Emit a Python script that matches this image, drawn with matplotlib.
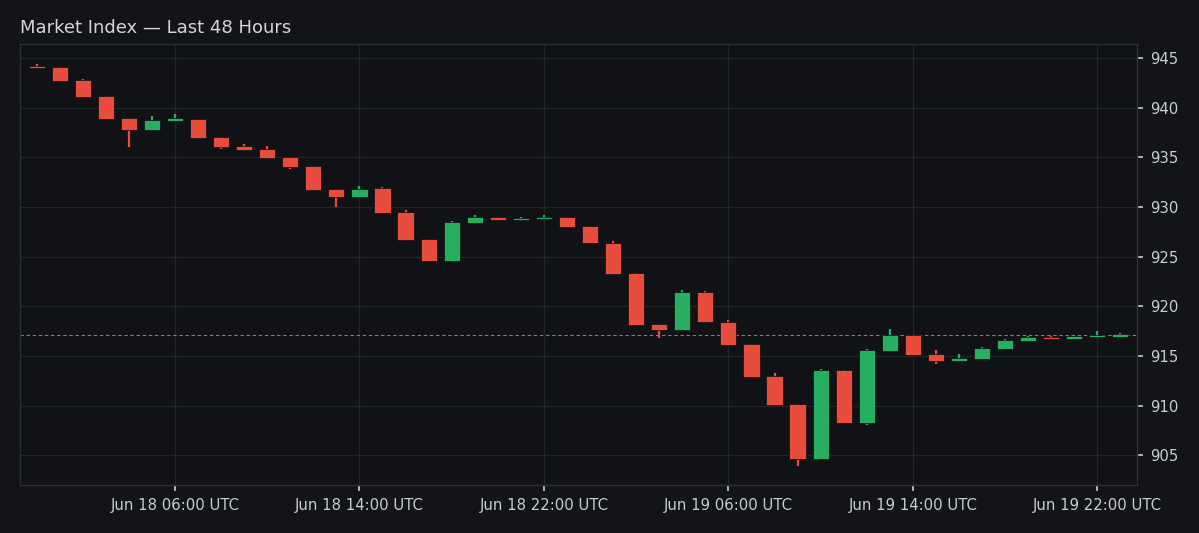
import matplotlib
matplotlib.use("Agg")
import matplotlib.pyplot as plt
import matplotlib.dates as mdates
import pandas as pd
import numpy as np

# ---- data ----
times = pd.date_range("2024-06-18 00:00", periods=48, freq="h")
opens = [944.22, 944.06, 942.78, 941.17, 938.96, 937.75, 938.69, 938.86, 937.07, 936.11,
         935.81, 935.03, 934.09, 931.78, 931.00, 931.88, 929.49, 926.80, 924.55, 928.39,
         928.99, 928.69, 928.79, 928.99, 928.11, 926.40, 923.32, 918.21, 917.61, 921.41,
         918.44, 916.17, 912.98, 910.13, 904.65, 913.58, 908.21, 915.49, 917.10, 915.19,
         914.52, 914.72, 915.70, 916.53, 916.90, 916.73, 916.97, 916.97]
closes = [943.96, 942.71, 941.10, 938.89, 937.75, 938.76, 938.89, 936.97, 936.00, 935.70,
          934.96, 933.99, 931.68, 931.03, 931.84, 929.36, 926.67, 924.55, 928.51, 928.99,
          928.72, 928.89, 928.99, 928.01, 926.34, 923.25, 918.14, 917.61, 921.41, 918.38,
          916.10, 912.91, 910.03, 904.65, 913.58, 908.21, 915.59, 917.10, 915.09, 914.52,
          914.79, 915.77, 916.60, 916.90, 916.70, 917.00, 917.10, 917.13]
highs = [944.42, 944.06, 942.88, 941.17, 938.96, 939.16, 939.36, 938.86, 937.07, 936.31,
         936.14, 935.03, 934.09, 931.78, 932.14, 931.98, 929.69, 926.80, 928.62, 929.19,
         928.99, 928.99, 929.19, 928.99, 928.11, 926.57, 923.32, 918.21, 921.64, 921.54,
         918.58, 916.17, 913.28, 910.13, 913.68, 913.58, 915.73, 917.71, 917.10, 915.59,
         915.19, 915.90, 916.73, 917.03, 917.03, 917.13, 917.50, 917.30]
lows = [943.96, 942.71, 941.10, 938.89, 936.07, 937.75, 938.69, 936.97, 935.84, 935.70,
        934.83, 933.85, 931.68, 929.96, 931.00, 929.36, 926.57, 924.55, 924.46, 928.39,
        928.59, 928.59, 928.79, 928.01, 926.34, 923.25, 918.14, 916.83, 917.61, 918.38,
        916.10, 912.91, 910.03, 903.91, 904.65, 908.21, 908.04, 915.49, 915.09, 914.16,
        914.52, 914.72, 915.70, 916.53, 916.70, 916.73, 916.83, 916.97]
tick_times = pd.to_datetime(["2024-06-18 06:00", "2024-06-18 14:00", "2024-06-18 22:00",
                             "2024-06-19 06:00", "2024-06-19 14:00", "2024-06-19 22:00"])
tick_labels = ["Jun 18 06:00 UTC", "Jun 18 14:00 UTC", "Jun 18 22:00 UTC",
               "Jun 19 06:00 UTC", "Jun 19 14:00 UTC", "Jun 19 22:00 UTC"]
y_ticks = [905, 910, 915, 920, 925, 930, 935, 940, 945]
title = "Market Index \u2014 Last 48 Hours"

# ---- style ----
FIG_BG = "#131418"
AX_BG = "#111216"
GRID = "#22252b"
SPINE = "#2c2f36"
TEXT = "#c9ccd1"
UP = "#27ae60"
DOWN = "#e74c3c"

fig = plt.figure(figsize=(11.99, 5.33), dpi=100, facecolor=FIG_BG)
ax = fig.add_axes([20 / 1199, 1 - 485 / 533, (1137 - 20) / 1199, (485 - 44) / 533])
ax.set_facecolor(AX_BG)

x = mdates.date2num(times.to_pydatetime())
width = 0.70 / 24

for xi, o, c, h, l in zip(x, opens, closes, highs, lows):
    col = UP if c >= o else DOWN
    ax.vlines(xi, l, h, color=col, linewidth=1.6, zorder=2)
    height = max(abs(c - o), 0.22)
    bottom = (o + c) / 2 - height / 2
    ax.bar(xi, height, width=width, bottom=bottom, color=col,
           edgecolor="#0c0d10", linewidth=0.5, zorder=3, align="center")

ax.axhline(closes[-1], color="#7d8088", linewidth=0.8, linestyle=(0, (3, 2.5)), zorder=1)

pad = 0.72 / 24
ax.set_xlim(x[0] - pad, x[-1] + pad)
ax.set_ylim(902.0, 946.4)

ax.set_xticks(mdates.date2num(tick_times.to_pydatetime()))
ax.set_xticklabels(tick_labels)
ax.set_yticks(y_ticks)
ax.set_yticklabels([str(v) for v in y_ticks])

ax.yaxis.tick_right()
ax.yaxis.set_label_position("right")
ax.tick_params(axis="both", colors=TEXT, labelsize=10.7, length=4.5, width=1.2)
ax.tick_params(axis="y", pad=5)
ax.tick_params(axis="x", pad=5)
for lab in ax.get_xticklabels() + ax.get_yticklabels():
    lab.set_color(TEXT)

ax.grid(True, color=GRID, linewidth=0.9, zorder=0)
ax.set_axisbelow(True)
for s in ax.spines.values():
    s.set_color(SPINE)
    s.set_linewidth(1.0)

fig.text(20 / 1199, 1 - 28 / 533, title, color="#d4d6da", fontsize=13,
         ha="left", va="center")

fig.savefig("out.png", dpi=100, facecolor=FIG_BG)
